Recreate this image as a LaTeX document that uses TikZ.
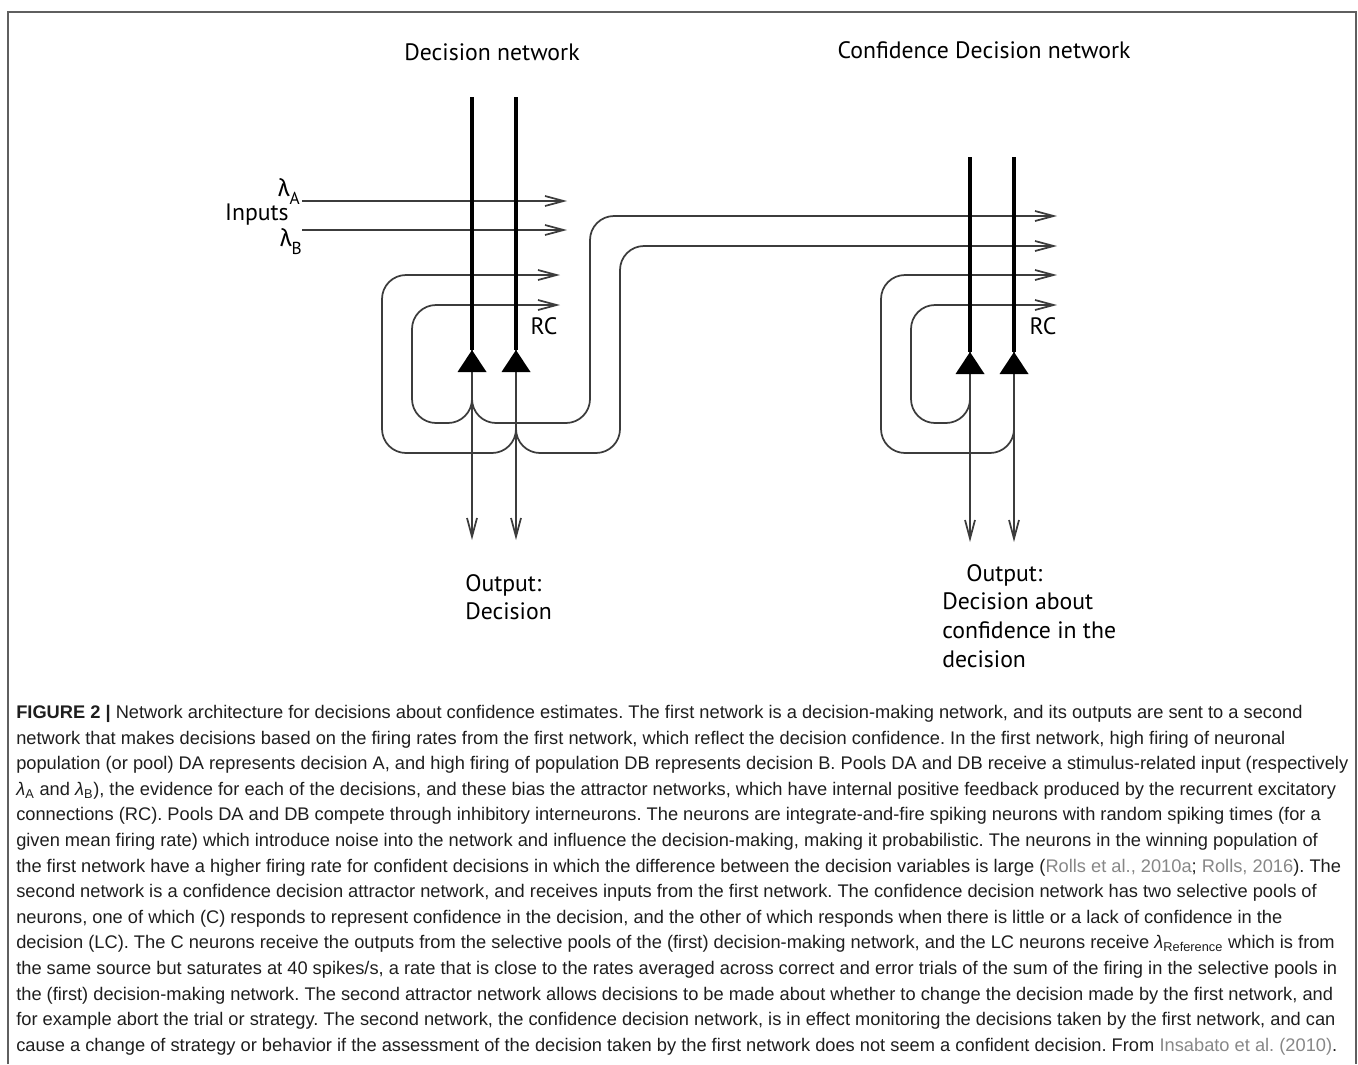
\documentclass[tikz,border=0pt]{standalone}
\usepackage{fontspec}
\usetikzlibrary{arrows.meta, positioning}
\newfontfamily\figfont{PT Sans}
\newfontfamily\greekfont{Fira Sans}
\newfontfamily\capfont{Liberation Sans}
\definecolor{cFrame}{RGB}{95,95,95}
\definecolor{cFibre}{RGB}{60,60,60}
\definecolor{cText}{RGB}{30,30,30}
\definecolor{cLink}{RGB}{135,135,135}
\frenchspacing

\begin{document}
\begin{tikzpicture}[
  x=0.75pt, y=-0.75pt,
  >={Straight Barb[length=14pt, width=7.5pt]},
  axon/.style={line width=2.6pt, black},
  fibre/.style={line width=1.3pt, cFibre, rounded corners=18pt},
  lab/.style={font=\figfont\fontsize{17.8}{21.5}\selectfont, inner sep=0pt},
  lam/.style={font=\greekfont\fontsize{18}{18}\selectfont, inner sep=0pt},
  caption/.style={font=\capfont\fontsize{13.7}{19.2}\selectfont, text=cText,
                  align=left, inner sep=0pt}
]
\useasboundingbox (0,0) rectangle (1358,1064);

%% ── FRAME ────────────────────────────────────────────────────────────────────

\draw[cFrame, line width=1.6pt] (8,1064) |- (1356,12) -- (1356,1064);

%% ── TITLES ───────────────────────────────────────────────────────────────────

\node[lab] (dnTitle)  at (492,52) {Decision network};
\node[lab] (cdnTitle) at (984,50) {Confidence Decision network};

%% ── INPUTS ───────────────────────────────────────────────────────────────────

\coordinate (srcA) at (302,201);
\coordinate (srcB) at (302,230);
\coordinate (inA)  at (567,201);
\coordinate (inB)  at (567,230);

\node[lab, anchor=east] (inputs) at (289,215) {Inputs};
\node[lam, anchor=east] (lamA) at (300,191)
  {λ\raisebox{-6pt}{\figfont\fontsize{13}{13}\selectfont A}};
\node[lam, anchor=east] (lamB) at (302,242)
  {λ\raisebox{-6pt}{\figfont\fontsize{13}{13}\selectfont B}};

\draw[fibre, ->] (srcA) -- (inA);
\draw[fibre, ->] (srcB) -- (inB);

%% ── DECISION NETWORK ─────────────────────────────────────────────────────────

\coordinate (topA)  at (472,97);
\coordinate (topB)  at (516,97);
\coordinate (somaA) at (472,350);
\coordinate (somaB) at (516,350);
\coordinate (jA)    at (472,393);
\coordinate (jB)    at (516,425);
\coordinate (outA)  at (472,540);
\coordinate (outB)  at (516,540);
\coordinate (rcA1)  at (560,275);
\coordinate (rcA2)  at (560,305);

\draw[fibre, ->] (somaA) -- (outA);
\draw[fibre, ->] (somaB) -- (outB);

% recurrent collaterals
\draw[fibre, ->] (jA) |- (412,423) |- (rcA2);
\draw[fibre, ->] (jB) |- (382,453) |- (rcA1);

\draw[axon] (topA) -- (somaA);
\draw[axon] (topB) -- (somaB);

\node[lab] (rcL) at (544,326) {RC};

%% ── CONFIDENCE DECISION NETWORK ──────────────────────────────────────────────

\coordinate (topC)  at (970,157);
\coordinate (topD)  at (1014,157);
\coordinate (somaC) at (970,352);
\coordinate (somaD) at (1014,352);
\coordinate (jC)    at (970,400);
\coordinate (jD)    at (1014,430);
\coordinate (outC)  at (970,542);
\coordinate (outD)  at (1014,542);
\coordinate (cf1)   at (1057,216);
\coordinate (cf2)   at (1057,246);
\coordinate (rcC1)  at (1057,275);
\coordinate (rcC2)  at (1057,305);

% outputs of the first network
\draw[fibre, ->] (jA) |- (590,423) |- (cf1);
\draw[fibre, ->] (jB) |- (620,453) |- (cf2);

\draw[fibre, ->] (somaC) -- (outC);
\draw[fibre, ->] (somaD) -- (outD);

% recurrent collaterals
\draw[fibre, ->] (jC) |- (911,423) |- (rcC2);
\draw[fibre, ->] (jD) |- (881,453) |- (rcC1);

\draw[axon] (topC) -- (somaC);
\draw[axon] (topD) -- (somaD);

\node[lab] (rcR) at (1043,326) {RC};

%% ── SOMATA ───────────────────────────────────────────────────────────────────

\fill (somaA) -- ++(-14.5,22) -- ++(29,0) -- cycle;
\fill (somaB) -- ++(-14.5,22) -- ++(29,0) -- cycle;
\fill (somaC) -- ++(-14.5,22) -- ++(29,0) -- cycle;
\fill (somaD) -- ++(-14.5,22) -- ++(29,0) -- cycle;

%% ── OUTPUT LABELS ────────────────────────────────────────────────────────────

\node[lab, anchor=north west, align=left] (outLab) at (465,574)
  {Output:\\Decision};
\node[lab, anchor=north west, align=left] (confLab) at (942,564)
  {\hspace*{18pt}Output:\\Decision about\\confidence in the\\decision};

%% ── CAPTION ──────────────────────────────────────────────────────────────────

\node[caption, anchor=north west] (cap) at (16,705) {%
\textbf{FIGURE 2 |} Network architecture for decisions about confidence estimates. The first network is a decision-making network, and its outputs are sent to a second\\
network that makes decisions based on the firing rates from the first network, which reflect the decision confidence. In the first network, high firing of neuronal\\
population (or pool) DA represents decision A, and high firing of population DB represents decision B. Pools DA and DB receive a stimulus-related input (respectively\\
{\itshape λ}\textsubscript{A} and {\itshape λ}\textsubscript{B}), the evidence for each of the decisions, and these bias the attractor networks, which have internal positive feedback produced by the recurrent excitatory\\
connections (RC). Pools DA and DB compete through inhibitory interneurons. The neurons are integrate-and-fire spiking neurons with random spiking times (for a\\
given mean firing rate) which introduce noise into the network and influence the decision-making, making it probabilistic. The neurons in the winning population of\\
the first network have a higher firing rate for confident decisions in which the difference between the decision variables is large (\textcolor{cLink}{Rolls et al., 2010a}; \textcolor{cLink}{Rolls, 2016}). The\\
second network is a confidence decision attractor network, and receives inputs from the first network. The confidence decision network has two selective pools of\\
neurons, one of which (C) responds to represent confidence in the decision, and the other of which responds when there is little or a lack of confidence in the\\
decision (LC). The C neurons receive the outputs from the selective pools of the (first) decision-making network, and the LC neurons receive {\itshape λ}\textsubscript{Reference} which is from\\
the same source but saturates at 40 spikes/s, a rate that is close to the rates averaged across correct and error trials of the sum of the firing in the selective pools in\\
the (first) decision-making network. The second attractor network allows decisions to be made about whether to change the decision made by the first network, and\\
for example abort the trial or strategy. The second network, the confidence decision network, is in effect monitoring the decisions taken by the first network, and can\\
cause a change of strategy or behavior if the assessment of the decision taken by the first network does not seem a confident decision. From \textcolor{cLink}{Insabato et al. (2010)}.};

\end{tikzpicture}
\end{document}
